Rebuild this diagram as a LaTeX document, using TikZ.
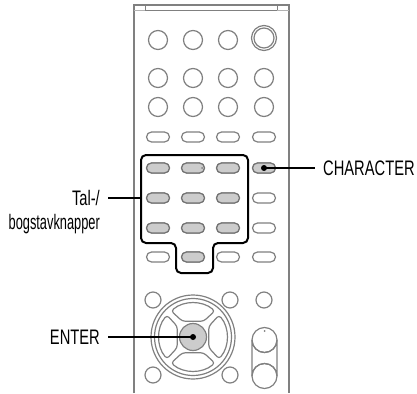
\documentclass[tikz,border=0pt]{standalone}
\usepackage{fontspec}
\setmainfont{Liberation Sans}[FakeStretch=0.7]
\newfontfamily\narrowfont{Liberation Sans}[FakeStretch=0.61]
\usetikzlibrary{calc}
\definecolor{keygray}{gray}{0.8}
\definecolor{edgegray}{gray}{0.5}

\tikzset{
	key/.style={draw=edgegray, line width=1.2, fill=white, rounded corners=5,
		minimum width=23, minimum height=10, inner sep=0},
	padkey/.style={key, fill=keygray, draw=gray!90!black},
	lbl/.style={inner sep=0, text height=15, text depth=0, font=\fontsize{21}{24}\selectfont},
	lead/.style={line width=1.8, black}
}

\begin{document}
\begin{tikzpicture}[x=1pt,y=-1pt]
\useasboundingbox (0,0) rectangle (417,393);
%\draw [help lines, step=20] (0,0) grid (417,393);

% remote body
\draw [edgegray, line width=1.8] (134,393) -- (134,5) -- (289,5) -- (289,393);
\draw [edgegray, line width=1] (145,5) rectangle (277,11);
\draw [gray!60, line width=0.8] (134,10) -- (145,10) (277,10) -- (289,10);

% round buttons
\foreach \x in {158,193,228}
	\draw [edgegray, line width=1.2] (\x,40) circle [radius=9.5];
\draw [edgegray, line width=1.2] (264,38) circle [radius=12.5] circle [radius=10];
\foreach \y in {78,107}
	\foreach \x in {158,193,228,264}
		\draw [edgegray, line width=1.2] (\x,\y) circle [radius=9.5];

% oval buttons: k<row><col>
\foreach \r/\y in {1/137,2/168,3/198,4/228,5/257}
	\foreach \c/\x in {1/158,2/193,3/228,4/264}
		\node [key] (k\r\c) at (\x,\y) {};
\foreach \k in {21,22,23,24,31,32,33,41,42,43,52}
	\node [padkey] at (k\k) {};
\fill [gray] ([xshift=9]k22.center) circle [radius=1];

% frame round the number keys
\draw [black, line width=2, rounded corners=5] (141,155) coordinate (padNW) -- (248,155)
	-- (248,243) -- (213,243) -- (213,273) -- (176,273) -- (176,243) -- (141,243) -- cycle;

% small round buttons by the cross
\foreach \x/\y in {153/300,230/300,264/300,153/375,230/375}
	\draw [edgegray, line width=1.2] (\x,\y) circle [radius=8];

% cross keys
\coordinate (nav) at (193,337);
\draw [edgegray, line width=1.2] (nav) circle [radius=42] circle [radius=38.5];
\foreach \a in {0,90,180,270}
	\draw [edgegray, line width=1.2, rounded corners=3]
		($(nav)+(\a-40:34)$) arc [start angle=\a-40, end angle=\a+40, radius=34]
		-- ($(nav)+(\a+34:19)$) -- ($(nav)+(\a-34:19)$) -- cycle;
\draw [edgegray, line width=1.2, fill=keygray] (nav) circle [radius=13.5];

% volume rocker
\draw [edgegray, line width=1.2] (252,340) -- (252,376) arc [start angle=180, end angle=360, radius=12.5]
	-- (277,340) arc [start angle=0, end angle=180, radius=12.5];
\draw [edgegray, line width=1.2] (264.5,340) circle [radius=12.5] (264.5,376) circle [radius=12.5];
\fill [gray] (264.5,331) circle [radius=1];

% labels and leaders
\node [lbl, anchor=east] (talLabel) at (100,198) {Tal-/};
\node [lbl, anchor=base east, font=\fontsize{21}{24}\narrowfont] (bogLabel)
	at ([yshift=-24]talLabel.base east) {bogstavknapper};
\draw [lead] ([xshift=8]talLabel.east) -- (talLabel.east -| padNW);

\node [lbl, anchor=west] (charLabel) at (323,168) {CHARACTER};
\fill (k24) circle [radius=3];
\draw [lead] (k24.center) -- ([xshift=-8]charLabel.west);

\node [lbl, anchor=east] (enterLabel) at (100,337) {ENTER};
\fill (nav) circle [radius=3];
\draw [lead] ([xshift=8]enterLabel.east) -- (nav);

\end{tikzpicture}
\end{document}
